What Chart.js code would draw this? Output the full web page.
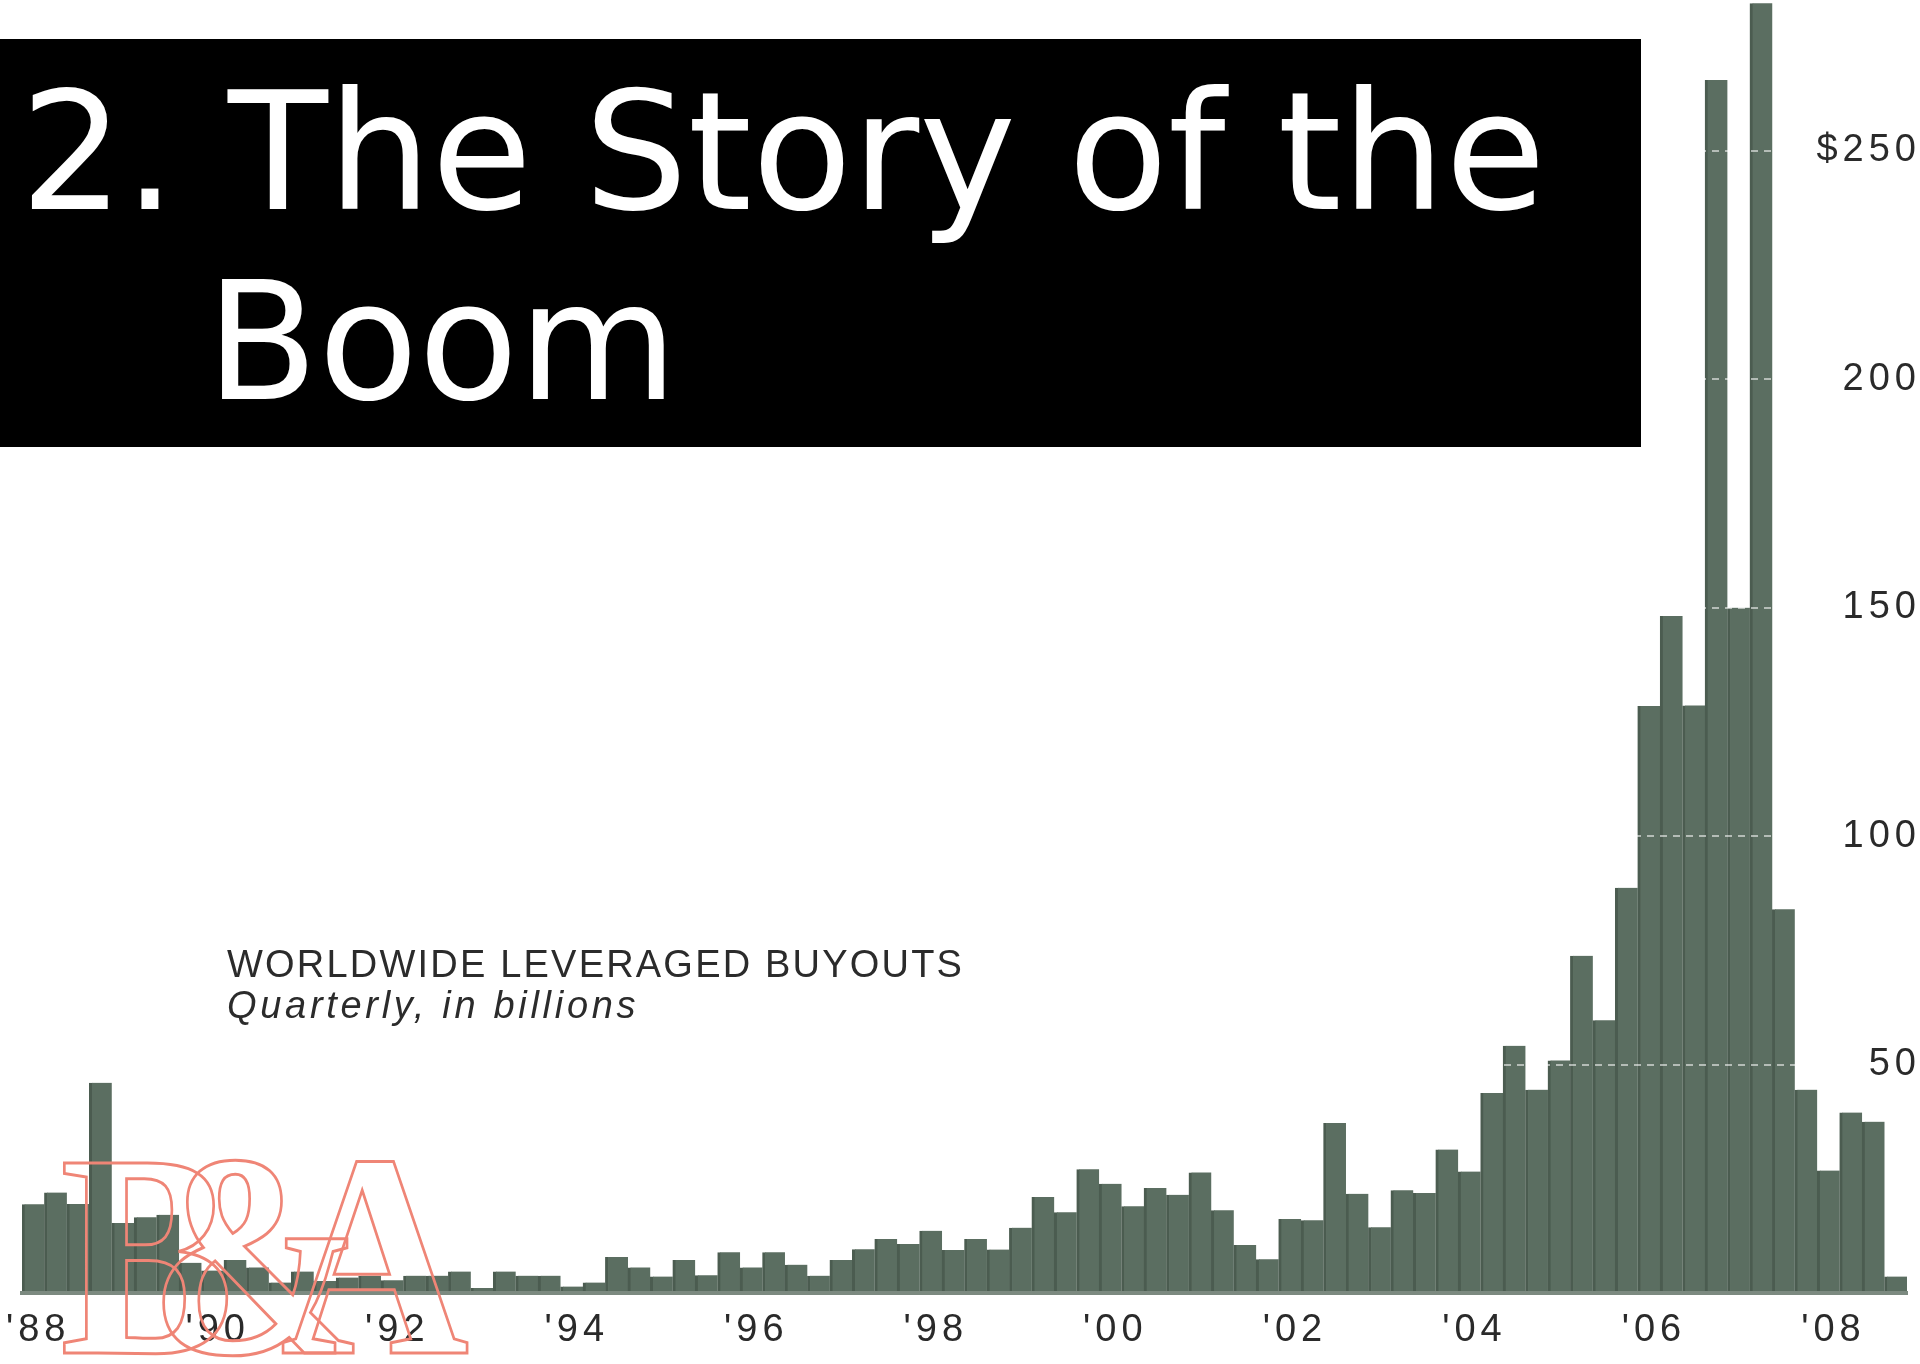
<!DOCTYPE html>
<html>
<head>
<meta charset="utf-8">
<title>2. The Story of the Boom</title>
<script src="https://cdn.jsdelivr.net/npm/chart.js@4"></script>
<style>
  html, body { margin: 0; padding: 0; background: #fff; }
  body { width: 1920px; height: 1364px; overflow: hidden; position: relative; }
  #wrap { position: absolute; left: 0; top: 0; width: 1920px; height: 1364px; }
  #titulo {
    position: absolute; left: 0; top: 39px; width: 1641px; height: 408px;
    background: #000;
  }
  #titulo p {
    position: absolute; left: 0; top: 19px; margin: 0;
    padding-left: 206px; text-indent: -186px;
    font-family: "DejaVu Sans", sans-serif; font-size: 163.5px; line-height: 190px;
    color: #fff; white-space: nowrap;
  }
  #legenda {
    position: absolute; left: 227px; top: 944px;
    font-family: "Liberation Sans", Arial, sans-serif; font-size: 38px; line-height: 41px;
    color: #2b2b2b;
  }
  #legenda .t1 { letter-spacing: 2.2px; }
  #legenda .t2 { font-style: italic; letter-spacing: 3.7px; }
  #logo {
    position: absolute; left: 60px; top: 1111px;
    font-family: "Liberation Serif", serif; font-weight: bold; font-size: 290px; line-height: 290px;
    letter-spacing: -95px; color: transparent;
    -webkit-text-stroke: 3px #ef8576; white-space: nowrap;
    transform: scaleX(0.9); transform-origin: 0 0;
  }
</style>
</head>
<body>
<div id="wrap"><canvas id="graficoLbo"></canvas></div>
<div id="titulo"><p>2. The Story of the<br>Boom</p></div>
<div id="legenda">
  <div class="t1">WORLDWIDE LEVERAGED BUYOUTS</div>
  <div class="t2">Quarterly, in billions</div>
</div>
<div id="logo">B&amp;A</div>
<script>
// anos cobertos, um rótulo por trimestre
const anos = [1988, 1989, 1990, 1991, 1992, 1993, 1994, 1995, 1996, 1997, 1998,
              1999, 2000, 2001, 2002, 2003, 2004, 2005, 2006, 2007, 2008];
const trimestres = ['Q1', 'Q2', 'Q3', 'Q4'];

// volume trimestral de LBOs no mundo, em bilhões de dólares
const volumes = [
  19.4, 22.0, 19.5, 46.0,     // 1988
  15.3, 16.6, 17.1, 6.6,      // 1989
  4.9, 7.2, 5.6, 2.3,         // 1990
  4.7, 2.6, 3.4, 3.8,         // 1991
  2.8, 3.8, 3.8, 4.7,         // 1992
  1.1, 4.7, 3.8, 3.8,         // 1993
  1.4, 2.3, 7.9, 5.6,         // 1994
  3.6, 7.2, 3.9, 8.9,         // 1995
  5.6, 8.9, 6.2, 3.8,         // 1996
  7.2, 9.6, 11.8, 10.7,       // 1997
  13.6, 9.4, 11.8, 9.5,       // 1998
  14.3, 21.0, 17.7, 27.1,     // 1999
  23.9, 19.0, 23.0, 21.5,     // 2000
  26.4, 18.1, 10.5, 7.4,      // 2001
  16.2, 15.9, 37.2, 21.7,     // 2002
  14.4, 22.5, 21.9, 31.4,     // 2003
  26.6, 43.8, 54.1, 44.5,     // 2004
  50.9, 73.8, 59.7, 88.7,     // 2005
  128.5, 148.2, 128.6, 265.5, // 2006
  150.0, 282.3, 84.0, 44.5,   // 2007
  26.8, 39.5, 37.5, 3.6       // 2008
];

// rótulos do eixo x: só o primeiro trimestre dos anos pares
const rotulosAnos = ["'88", "'90", "'92", "'94", "'96", "'98", "'00", "'02", "'04", "'06", "'08"];
const valoresEixoY = [50, 100, 150, 200, 250];
const rotulosEixoY = ['50', '100', '150', '200', '$250'];

const rotulos = [];
anos.forEach(function (ano) {
    trimestres.forEach(function (t) { rotulos.push(ano + ' ' + t); });
});

function rotuloX(indice) {
    if (indice % 8 !== 0) return '';
    return rotulosAnos[indice / 8];
}

const fonteEixo = '"Liberation Sans", Arial, sans-serif';

// espaçamento das letras dos eixos
const espacoLetras = {
    id: 'espacoLetras',
    beforeDraw(chart) { chart.ctx.letterSpacing = '5px'; }
};

// valores do eixo y alinhados à direita, por cima da área do gráfico
const rotulosDireita = {
    id: 'rotulosDireita',
    afterDraw(chart) {
        const ctx = chart.ctx;
        const escalaY = chart.scales.y;
        ctx.save();
        ctx.font = '38px ' + fonteEixo;
        ctx.letterSpacing = '5px';
        ctx.fillStyle = '#2a2a2a';
        ctx.textAlign = 'right';
        ctx.textBaseline = 'middle';
        valoresEixoY.forEach(function (v, i) {
            ctx.fillText(rotulosEixoY[i], chart.width + 1, escalaY.getPixelForValue(v));
        });
        ctx.restore();
    }
};

const contexto = document.getElementById('graficoLbo').getContext('2d');

new Chart(contexto, {
    type: 'bar',
    data: {
        labels: rotulos,
        datasets: [{
            data: volumes,
            backgroundColor: '#5b6e61',
            borderColor: '#4b5c50',
            borderWidth: { left: 3, top: 0, right: 0, bottom: 0 },
            borderSkipped: false,
            barPercentage: 1,
            categoryPercentage: 1
        }]
    },
    options: {
        responsive: true,
        maintainAspectRatio: false,
        animation: false,
        layout: { padding: { left: 22, right: 0, top: 0, bottom: 0 } },
        plugins: {
            legend: { display: false },
            tooltip: { enabled: false }
        },
        scales: {
            x: {
                offset: true,
                grid: { display: false, drawTicks: false },
                border: { display: true, color: '#7c8a80', width: 4, z: 1 },
                ticks: {
                    autoSkip: false,
                    maxRotation: 0,
                    padding: 15,
                    labelOffset: 5,
                    color: '#2a2a2a',
                    font: { family: fonteEixo, size: 38 },
                    callback: function (valor, indice) { return rotuloX(indice); }
                },
                afterFit: function (escala) {
                    escala.height = 71;
                    escala.paddingLeft = 0;
                    escala.paddingRight = 0;
                }
            },
            y: {
                position: 'right',
                min: 0,
                max: 283,
                grid: {
                    color: 'rgba(255, 255, 255, 0.55)',
                    lineWidth: 2,
                    drawTicks: false,
                    z: 1
                },
                border: { display: false, dash: [7, 6] },
                ticks: { display: false },
                afterBuildTicks: function (escala) {
                    escala.ticks = valoresEixoY.map(function (v) { return { value: v }; });
                },
                afterFit: function (escala) {
                    escala.width = 13;
                    escala.paddingTop = 0;
                    escala.paddingBottom = 0;
                }
            }
        }
    },
    plugins: [espacoLetras, rotulosDireita]
});
</script>
</body>
</html>
